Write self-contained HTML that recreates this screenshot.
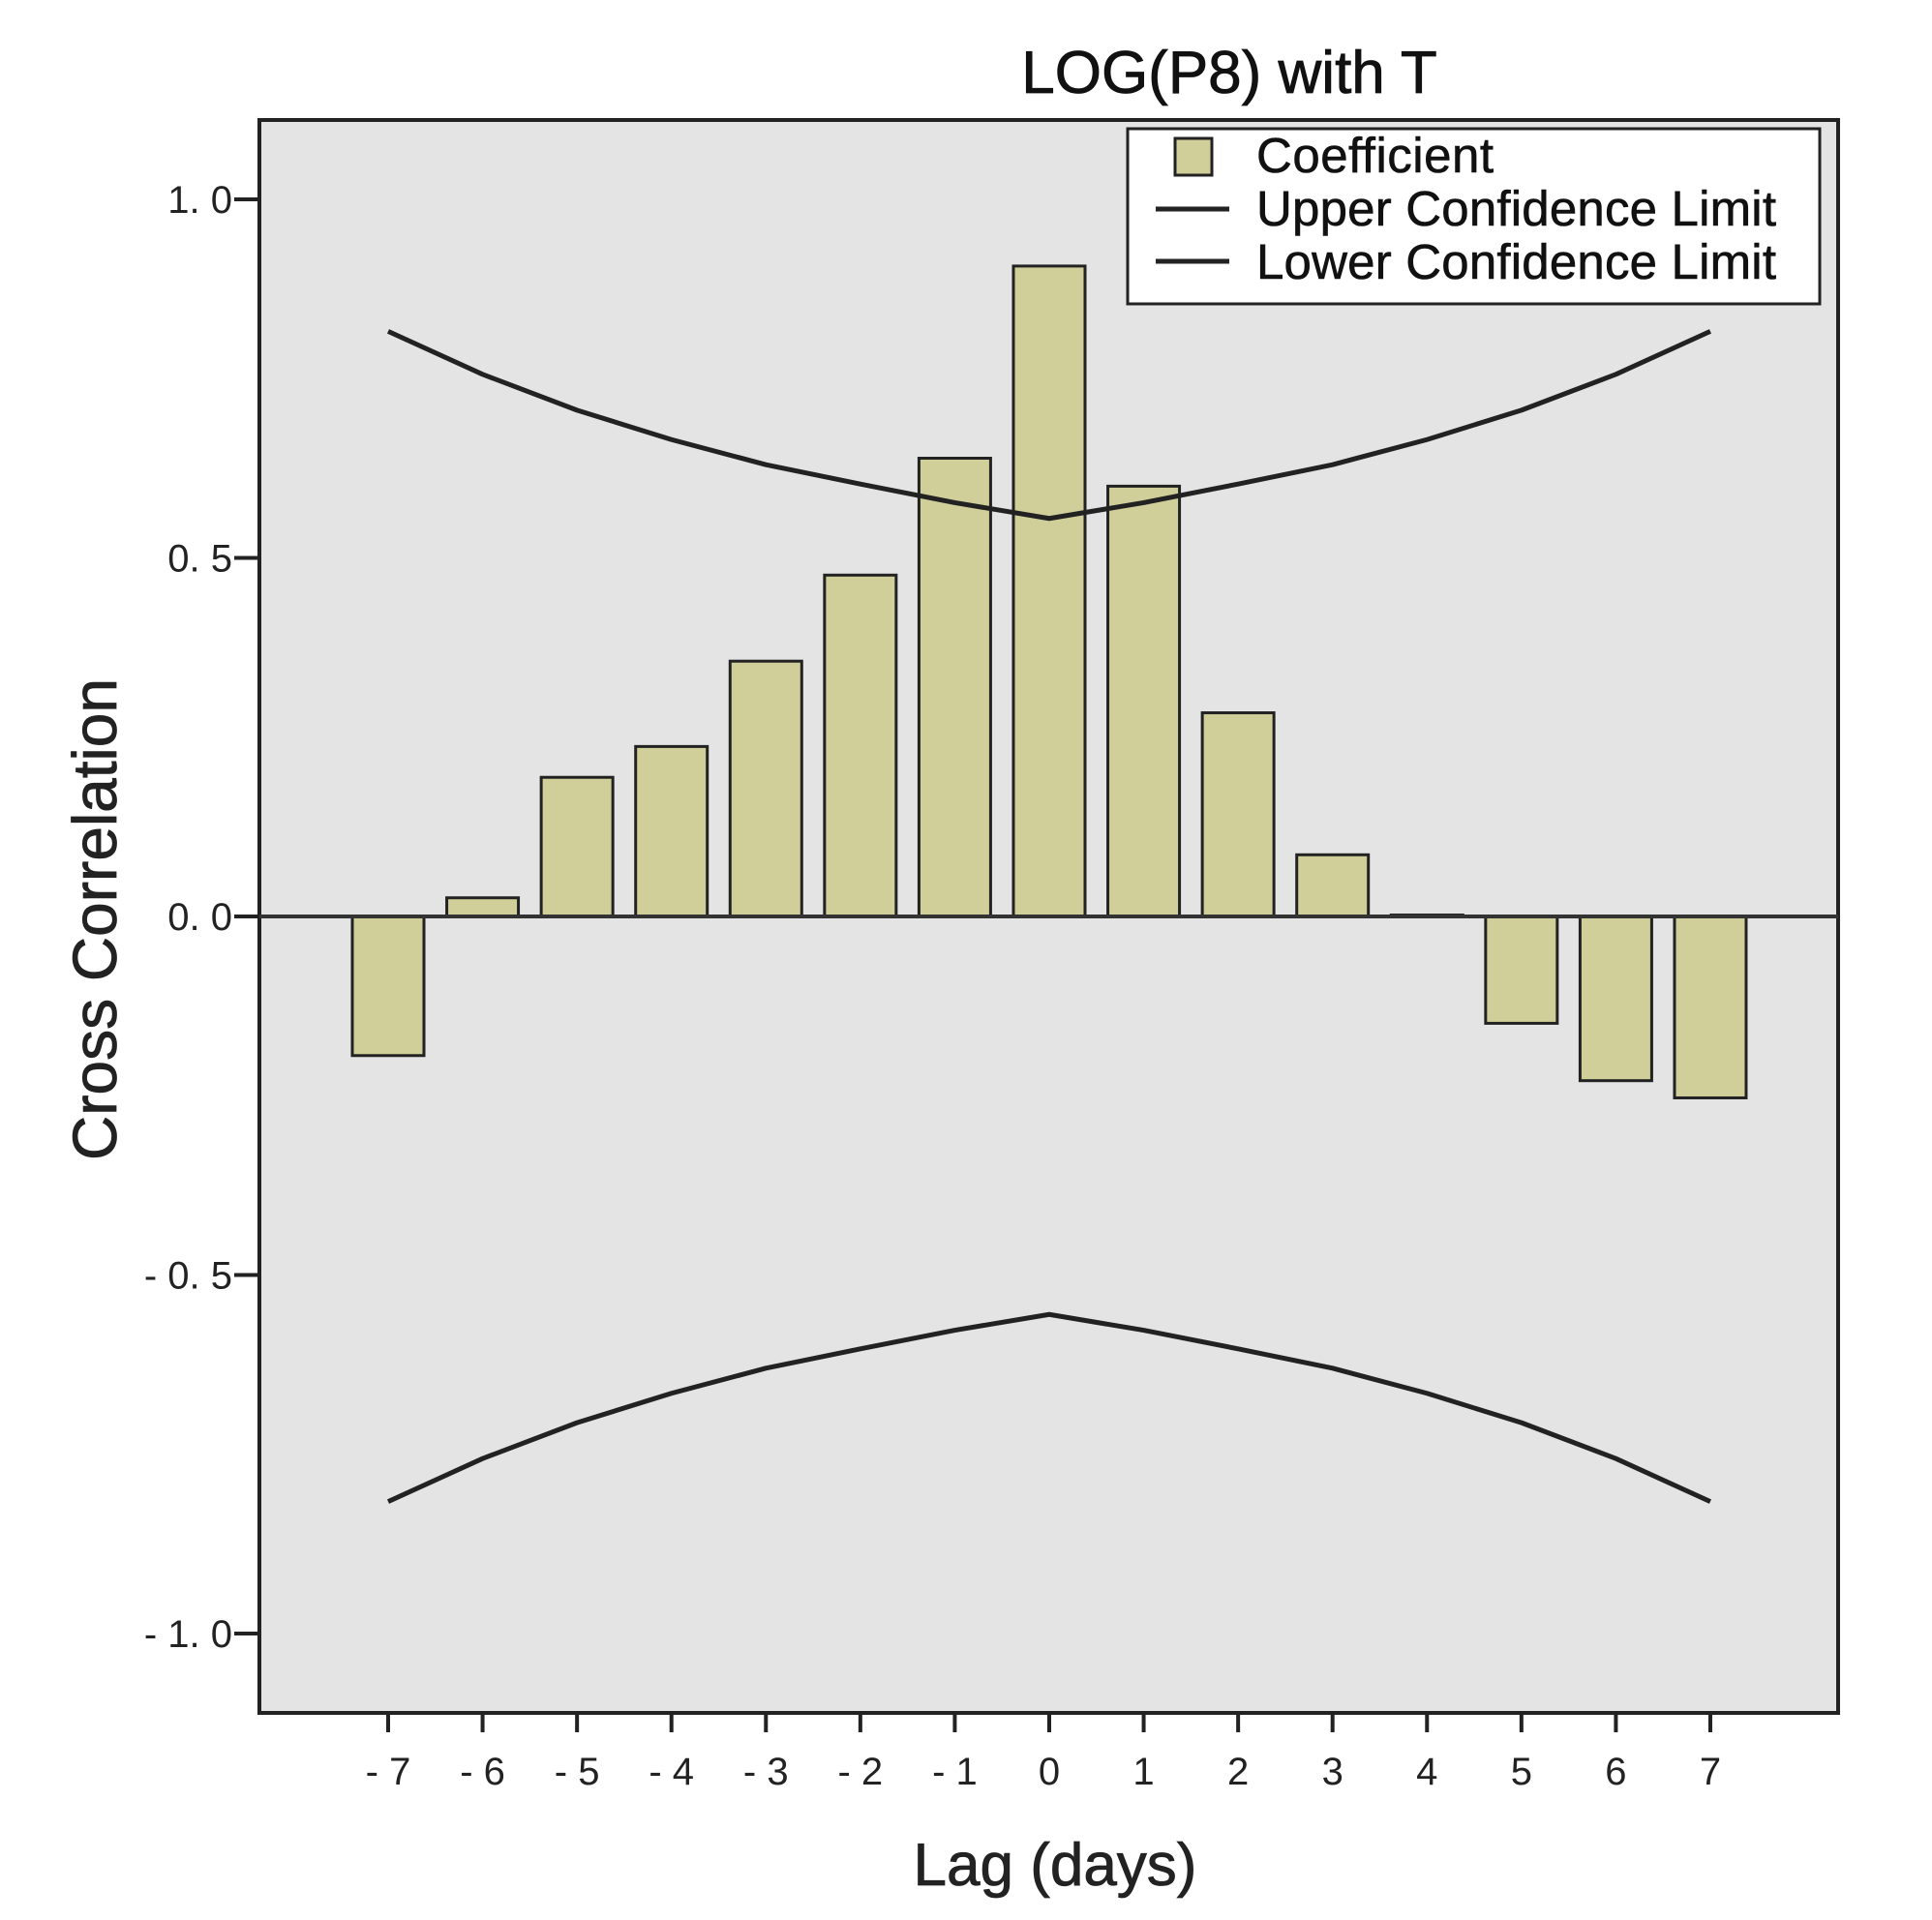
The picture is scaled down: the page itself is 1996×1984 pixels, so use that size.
<!DOCTYPE html>
<html><head><meta charset="utf-8"><style>
html,body{margin:0;padding:0;background:#fff;}
svg{display:block;font-family:"Liberation Sans",Arial,sans-serif;}
</style></head><body>
<svg id="chart" width="1996" height="1984" viewBox="0 0 1996 1984" xmlns="http://www.w3.org/2000/svg">
<rect x="0" y="0" width="1996" height="1984" fill="#fff"/>
<text x="1270" y="96" font-size="62" text-anchor="middle" fill="#111" stroke="#111" stroke-width="0.8">LOG(P8) with T</text>
<rect x="268" y="124" width="1631" height="1646" fill="#e4e4e4" stroke="#222" stroke-width="4"/>
<g id="bars"></g>
<g id="lines"></g>
<g id="axes"></g>
<text x="0" y="0" font-size="64" text-anchor="middle" fill="#222" stroke="#222" stroke-width="0.8" transform="translate(120,950) rotate(-90)">Cross Correlation</text>
<text x="1090" y="1948" font-size="62" text-anchor="middle" fill="#222" stroke="#222" stroke-width="0.8">Lag (days)</text>
<g>
<rect x="1165" y="133" width="715" height="181" fill="#fff" stroke="#222" stroke-width="3"/>
<rect x="1214" y="143" width="38" height="38" fill="#d1cf99" stroke="#222" stroke-width="3"/>
<text x="1298" y="178" font-size="51" textLength="245" fill="#111" stroke="#111" stroke-width="0.6">Coefficient</text>
<line x1="1194" y1="216" x2="1270" y2="216" stroke="#222" stroke-width="5"/>
<text x="1298" y="233" font-size="51" textLength="537" fill="#111" stroke="#111" stroke-width="0.6">Upper Confidence Limit</text>
<line x1="1194" y1="270" x2="1270" y2="270" stroke="#222" stroke-width="5"/>
<text x="1298" y="288" font-size="51" textLength="537" fill="#111" stroke="#111" stroke-width="0.6">Lower Confidence Limit</text>
</g>
</svg>
<script>
const lags = [-7,-6,-5,-4,-3,-2,-1,0,1,2,3,4,5,6,7];
const coefficients = [-0.194,0.026,0.194,0.237,0.356,0.476,0.639,0.907,0.600,0.284,0.086,0.002,-0.149,-0.229,-0.253];
const upperLimit = [0.816,0.756,0.706,0.665,0.630,0.603,0.577,0.555,0.577,0.603,0.630,0.665,0.706,0.756,0.816];
const lowerLimit = [-0.816,-0.756,-0.706,-0.665,-0.630,-0.603,-0.577,-0.555,-0.577,-0.603,-0.630,-0.665,-0.706,-0.756,-0.816];
const yTicks = [1.0,0.5,0.0,-0.5,-1.0];
const yTickLabels = ["1. 0","0. 5","0. 0","- 0. 5","- 1. 0"];
const xTickLabels = ["- 7","- 6","- 5","- 4","- 3","- 2","- 1","0","1","2","3","4","5","6","7"];

const NS="http://www.w3.org/2000/svg";
function y(v){return 947 - v*741;}
function x(l){return 401 + (l+7)*97.57;}
const barW=74;
function mk(tag,attrs,parent){const e=document.createElementNS(NS,tag);for(const k in attrs)e.setAttribute(k,attrs[k]);parent.appendChild(e);return e;}
const bars=document.getElementById('bars'),lines=document.getElementById('lines'),axes=document.getElementById('axes');
lags.forEach((l,i)=>{
  const v=coefficients[i];
  const top=Math.min(y(v),y(0)),h=Math.max(Math.abs(y(v)-y(0)),1);
  const r=mk('rect',{x:x(l)-barW/2,y:top,width:barW,height:h,fill:'#d1cf99',stroke:'#222','stroke-width':3},bars);
  
  
});
const z=mk('line',{x1:268,x2:1899,y1:y(0),y2:y(0),stroke:'#333','stroke-width':4},lines);


function poly(arr,name){
  const p=mk('polyline',{points:lags.map((l,i)=>x(l)+','+y(arr[i])).join(' '),fill:'none',stroke:'#222','stroke-width':5,'stroke-linejoin':'round'},lines);
  
  
}
poly(upperLimit,'upper-confidence-line');
poly(lowerLimit,'lower-confidence-line');
yTicks.forEach((t,i)=>{
  const ln=mk('line',{x1:242,x2:268,y1:y(t),y2:y(t),stroke:'#222','stroke-width':4},axes);
  
  
  const tx=mk('text',{x:240,y:y(t)+14,'font-size':40,'text-anchor':'end',fill:'#222'},axes);
  tx.textContent=yTickLabels[i];
  
  
});
lags.forEach((l,i)=>{
  const ln=mk('line',{x1:x(l),x2:x(l),y1:1770,y2:1790,stroke:'#222','stroke-width':4},axes);
  
  
  const tx=mk('text',{x:x(l),y:1844,'font-size':40,'text-anchor':'middle',fill:'#222'},axes);
  tx.textContent=xTickLabels[i];
  
  
});
</script>
</body></html>
